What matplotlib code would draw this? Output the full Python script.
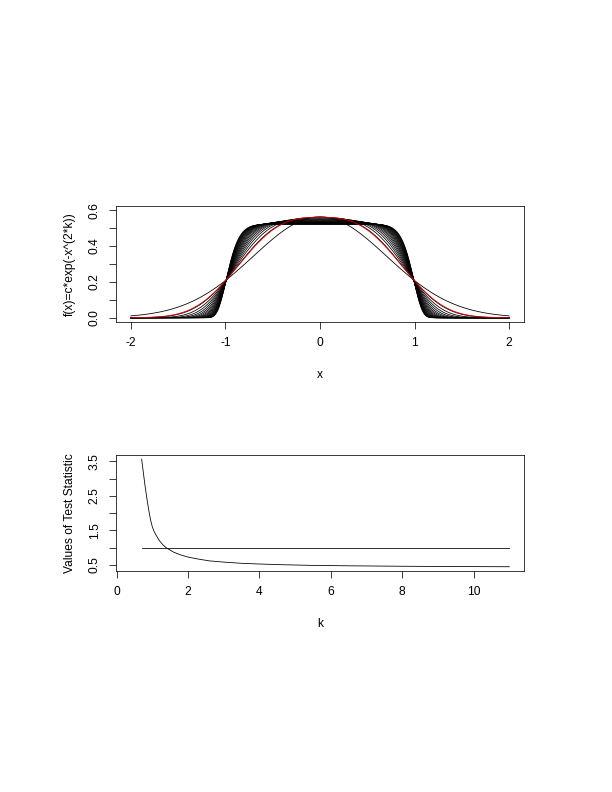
import math
import numpy as np
import matplotlib
matplotlib.use('Agg')
import matplotlib.pyplot as plt

plt.rcParams['font.family'] = ['Liberation Sans', 'DejaVu Sans']
plt.rcParams['font.size'] = 12

# top panel: shape parameters of f(x)=c*exp(-x^(2*k)), c normalises the density
k_black = [1, 1.5, 1.75, 2, 2.25, 2.5, 2.75, 3, 3.25, 3.5, 3.75, 4,
           4.25, 4.5, 4.75, 5, 5.25, 5.5, 5.75, 6]
k_red = 1.45
x_grid = np.linspace(-2, 2, 401)

# bottom panel: test statistic
k_stat = [0.70, 0.75, 0.80, 0.85, 0.90, 0.95, 1.00, 1.05, 1.10, 1.20, 1.30, 1.40,
          1.60, 1.80, 2.00, 2.30, 2.60, 3.00, 3.50, 4.00, 4.60, 5.50, 6.50, 8.00,
          9.50, 11.0]
stat_vals = [3.56, 3.15, 2.75, 2.40, 2.08, 1.80, 1.60, 1.47, 1.37, 1.20, 1.08, 0.99,
             0.87, 0.79, 0.73, 0.67, 0.62, 0.585, 0.55, 0.53, 0.51, 0.49, 0.478, 0.465,
             0.457, 0.451]
ref_k = [0.7, 11.0]
ref_val = [1.0, 1.0]


def density(x, k):
    c = 1.0 / (2.0 * math.gamma(1.0 + 1.0 / (2.0 * k)))
    return c * np.exp(-np.abs(x) ** (2 * k))


def r_style(ax):
    for s in ax.spines.values():
        s.set_linewidth(0.75)
    ax.tick_params(direction='out', length=7, width=0.75, pad=8, labelsize=12)
    for lab in ax.get_yticklabels():
        lab.set_rotation(90)
        lab.set_va('center')


fig = plt.figure(figsize=(8.5, 11), dpi=72)

ax1 = fig.add_axes([0.189, 0.5934, 0.6677, 0.1465])
for k in k_black:
    ax1.plot(x_grid, density(x_grid, k), color='black', lw=0.8)
ax1.plot(x_grid, density(x_grid, k_red), color='#dd0000', lw=0.9)
ax1.set_xlim(-2.16, 2.16)
ax1.set_ylim(-0.024, 0.624)
ax1.set_xticks([-2, -1, 0, 1, 2])
ax1.set_xticklabels(['-2', '-1', '0', '1', '2'])
ax1.set_yticks([0.0, 0.1, 0.2, 0.3, 0.4, 0.5, 0.6])
ax1.set_yticklabels(['0.0', '', '0.2', '', '0.4', '', '0.6'])
ax1.set_xlabel('x', labelpad=20)
ax1.set_ylabel('f(x)=c*exp(-x^(2*k))', labelpad=13)
r_style(ax1)

ax2 = fig.add_axes([0.189, 0.279, 0.6677, 0.1465])
ax2.plot(k_stat, stat_vals, color='black', lw=0.8)
ax2.plot(ref_k, ref_val, color='black', lw=0.8)
ax2.set_xlim(-0.028, 11.42)
ax2.set_ylim(0.327, 3.68)
ax2.set_xticks([0, 2, 4, 6, 8, 10])
ax2.set_yticks([0.5, 1.0, 1.5, 2.0, 2.5, 3.0, 3.5])
ax2.set_yticklabels(['0.5', '', '1.5', '', '2.5', '', '3.5'])
ax2.set_xlabel('k', labelpad=20)
ax2.set_ylabel('Values of Test Statistic', labelpad=13)
r_style(ax2)

fig.savefig('out.png', dpi=72)
